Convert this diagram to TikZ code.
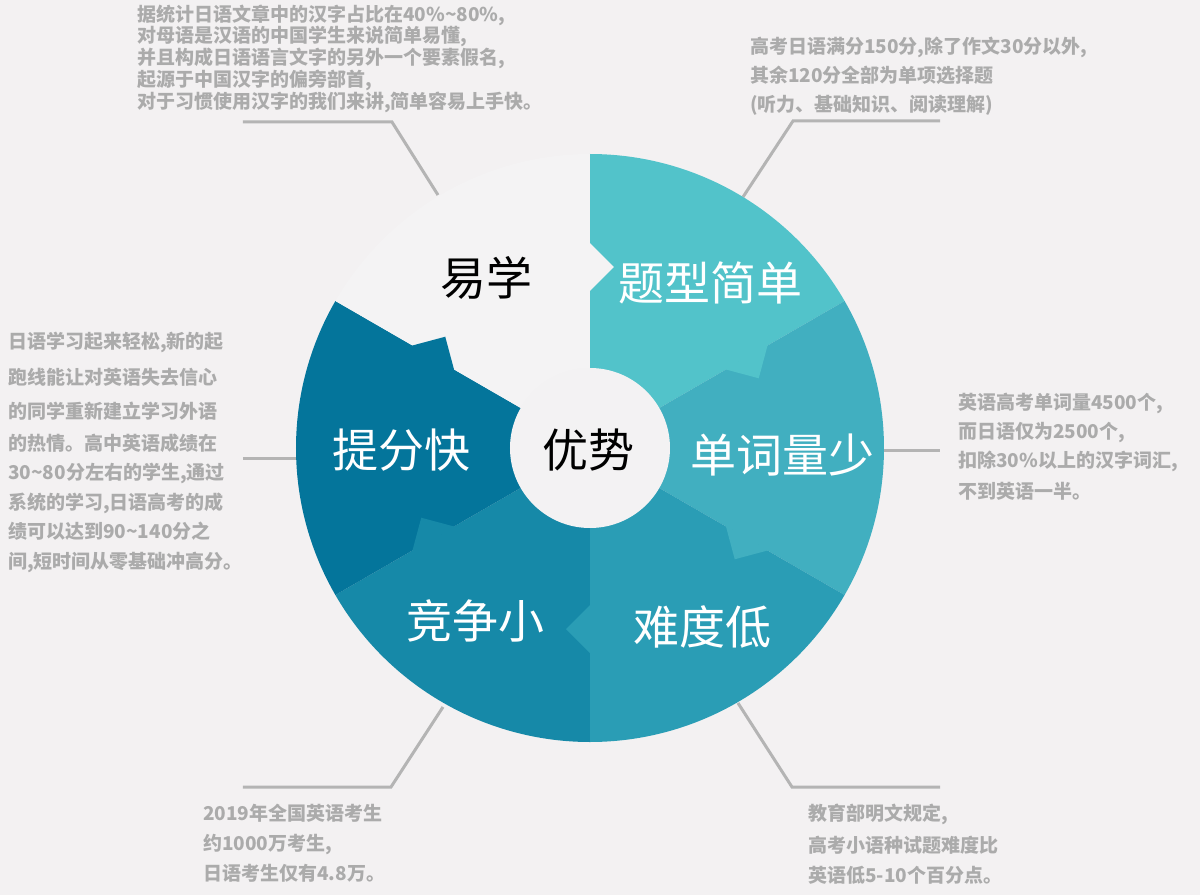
\documentclass[tikz,border=0pt]{standalone}
\usepackage{fontspec}
\setmainfont{Noto Sans CJK SC}
\definecolor{bg}{HTML}{F3F1F2}
\definecolor{cA}{HTML}{52C3CA}
\definecolor{cB}{HTML}{41AFC0}
\definecolor{cC}{HTML}{2A9DB5}
\definecolor{cD}{HTML}{1689A8}
\definecolor{cE}{HTML}{04759B}
\definecolor{cF}{HTML}{F4F3F4}
\definecolor{hub}{HTML}{F3F2F3}
\definecolor{notegray}{HTML}{ABABAB}
\definecolor{linegray}{HTML}{B4B4B4}
\begin{document}
\begin{tikzpicture}[x=1pt,y=1pt,
  note/.style={anchor=base west, inner sep=0pt, text=notegray, font=\fontsize{19}{19}\selectfont\bfseries},
  big/.style={anchor=base, inner sep=0pt, text=white, font=\fontsize{46}{46}\selectfont},
  leader/.style={draw=linegray, line width=3pt}]
\useasboundingbox[fill=bg] (-590,-447) rectangle (610,448);

% leader line coordinates
\coordinate (tl1) at (-347,326); \coordinate (tl2) at (-198,326); \coordinate (tl3) at (-152,253);
\coordinate (tr1) at (350,327);  \coordinate (tr2) at (203,327);  \coordinate (tr3) at (153,251);
\coordinate (r1) at (290,-2);    \coordinate (r2) at (350,-2);
\coordinate (l1) at (-347,-10);  \coordinate (l2) at (-290,-10);
\coordinate (bl1) at (-347,-339); \coordinate (bl2) at (-199,-339); \coordinate (bl3) at (-147,-259);
\coordinate (br1) at (148,-255); \coordinate (br2) at (202,-339); \coordinate (br3) at (350,-339);

\draw[leader] (tl1) -- (tl2) -- (tl3);
\draw[leader] (tr1) -- (tr2) -- (tr3);
\draw[leader] (r1) -- (r2);
\draw[leader] (l1) -- (l2);
\draw[leader] (bl1) -- (bl2) -- (bl3);
\draw[leader] (br1) -- (br2) -- (br3);

% sectors
\foreach \a/\c in {30/cA, -30/cB, -90/cC, -150/cD, 150/cE, 90/cF} {
  \fill[\c] (0,0) -- (\a:294pt) arc[start angle=\a, end angle=\a+60, radius=294pt] -- cycle;
}
% puzzle tabs
\foreach \a/\c in {90/cF, 30/cA, -30/cB, -90/cC, -150/cD, 150/cE} {
  \fill[\c, rotate=\a] (157,1) -- (157,0) -- (181,-24) -- (205,0) -- (205,1) -- cycle;
}
% hub
\node[circle, fill=hub, minimum size=160pt, inner sep=0pt] (hub) at (0,0) {};

% big labels
\node[big, text=black] (yixue) at (-103,152.5) {易学};
\node[big] (tixing) at (121,147.5) {题型简单};
\node[big] (danci) at (193,-24.5) {单词量少};
\node[big] (nandu) at (113,-196.5) {难度低};
\node[big] (jingzheng) at (-114,-190.5) {竞争小};
\node[big] (tifen) at (-188,-19.5) {提分快};
\node[big, text=black] (youshi) at (-1,-19.5) {优势};

% notes top-left
\node[note] (n11) at (-453,426.8) {据统计日语文章中的汉字占比在40\%\textasciitilde80\%,};
\node[note] (n12) at (-453,405.3) {对母语是汉语的中国学生来说简单易懂,};
\node[note] (n13) at (-453,383.8) {并且构成日语语言文字的另外一个要素假名,};
\node[note] (n14) at (-453,361.8) {起源于中国汉字的偏旁部首,};
\node[note] (n15) at (-453,339.8) {对于习惯使用汉字的我们来讲,简单容易上手快。};

% notes top-right
\node[note] (n21) at (160,394.8) {高考日语满分150分,除了作文30分以外,};
\node[note] (n22) at (160,365.8) {其余120分全部为单项选择题};
\node[note] (n23) at (160,336.8) {(听力、基础知识、阅读理解)};

% notes left
\node[note] (n31) at (-582,99.8) {日语学习起来轻松,新的起};
\node[note] (n32) at (-582,63.8) {跑线能让对英语失去信心};
\node[note] (n33) at (-582,29.8) {的同学重新建立学习外语};
\node[note] (n34) at (-582,-2.2) {的热情。高中英语成绩在};
\node[note] (n35) at (-582,-31.2) {30\textasciitilde80分左右的学生,通过};
\node[note] (n36) at (-582,-61.2) {系统的学习,日语高考的成};
\node[note] (n37) at (-582,-90.2) {绩可以达到90\textasciitilde140分之};
\node[note] (n38) at (-582,-120.2) {间,短时间从零基础冲高分。};

% notes right
\node[note] (n41) at (368,38.8) {英语高考单词量4500个,};
\node[note] (n42) at (368,9.8) {而日语仅为2500个,};
\node[note] (n43) at (368,-19.2) {扣除30\%以上的汉字词汇,};
\node[note] (n44) at (368,-50.2) {不到英语一半。};

% notes bottom-left
\node[note] (n51) at (-387,-372.2) {2019年全国英语考生};
\node[note] (n52) at (-387,-402.2) {约1000万考生,};
\node[note] (n53) at (-387,-432.2) {日语考生仅有4.8万。};

% notes bottom-right
\node[note] (n61) at (218,-372.2) {教育部明文规定,};
\node[note] (n62) at (218,-404.2) {高考小语种试题难度比};
\node[note] (n63) at (218,-434.2) {英语低5-10个百分点。};
\end{tikzpicture}
\end{document}
